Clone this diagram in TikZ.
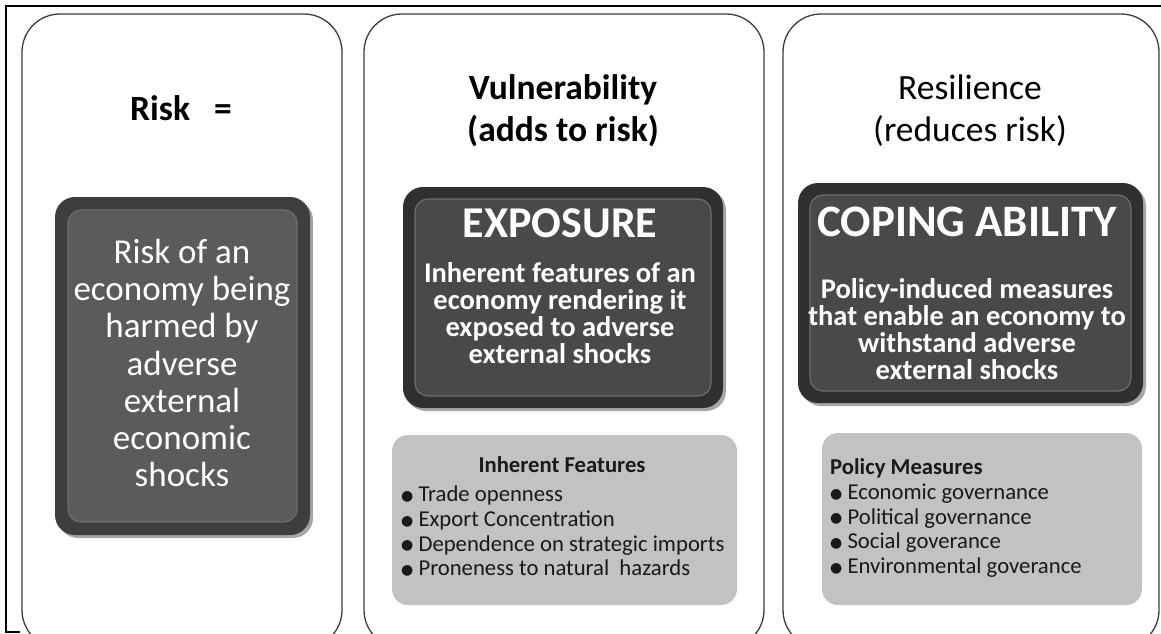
\documentclass[tikz,border=0pt]{standalone}
\usepackage{fontspec}
\setmainfont{Carlito}
\newfontfamily\symfont{DejaVu Sans}
\usetikzlibrary{shadows}
\definecolor{panelline}{HTML}{3C3C3C}
\definecolor{rimA}{HTML}{3E3E3E}
\definecolor{faceA}{HTML}{5B5B5B}
\definecolor{rimB}{HTML}{303030}
\definecolor{faceB}{HTML}{494949}
\definecolor{facelite}{HTML}{6E6E6E}
\definecolor{graypanel}{HTML}{C2C2C2}
\newcommand\bul{\raisebox{1.3pt}{\symfont\fontsize{14}{14}\selectfont ●}}
\begin{document}
\begin{tikzpicture}[x=1pt,y=-1pt,
  panel/.style={draw=panelline, line width=1.3pt, rounded corners=38pt, fill=white,
    inner sep=0pt, outer sep=0pt},
  rim/.style={fill=#1, rounded corners=20pt, inner sep=0pt, outer sep=0pt,
    drop shadow={shadow xshift=3pt, shadow yshift=-3pt, opacity=0.35, fill=black}},
  face/.style={fill=#1, draw=facelite, line width=1.2pt, rounded corners=13pt,
    inner sep=0pt, outer sep=0pt},
  graybox/.style={fill=graypanel, rounded corners=16pt, inner sep=0pt, outer sep=0pt},
  head/.style={font=\fontsize{35.5}{42}\selectfont, align=center, inner sep=0pt},
  boldhead/.style={font=\bfseries\fontsize{35.5}{42}\selectfont, align=center, inner sep=0pt},
  bigtitle/.style={text=white, font=\bfseries\fontsize{#1}{#1}\selectfont, inner sep=0pt},
  bodytext/.style={text=white, font=\bfseries\fontsize{28.5}{27}\selectfont, align=center, inner sep=0pt},
  listtext/.style={text=black!90, font=\fontsize{22.7}{24.7}\selectfont, align=left, inner sep=0pt}
]
\useasboundingbox (0,0) rectangle (1161,633);
\clip (0,0) rectangle (1161,633);

% three column panels
\node[panel, minimum width=320pt, minimum height=634pt] (p1) at (182,331) {};
\node[panel, minimum width=400pt, minimum height=634pt] (p2) at (564,331) {};
\node[panel, minimum width=376pt, minimum height=634pt] (p3) at (971,331) {};

% column headings
\node[boldhead] (h1) at (181,108) {Risk\hspace{24pt}=};
\node[boldhead] (h2) at (563,111) {Vulnerability\\(adds to risk)};
\node[head] (h3) at (970,111) {Resilience\\(reduces risk)};

% dark boxes
\node[rim=rimA, minimum width=255pt, minimum height=338pt] (b1) at (182.5,366) {};
\node[face=faceA, minimum width=229pt, minimum height=312pt] (f1) at (b1) {};
\node[text=white, font=\fontsize{35}{37.2}\selectfont, align=center, inner sep=0pt] (t1) at (182,363)
  {Risk of an\\economy being\\harmed by\\adverse\\external\\economic\\shocks};

\node[rim=rimB, minimum width=320pt, minimum height=221pt] (b2) at (563,297.5) {};
\node[face=faceB, minimum width=296pt, minimum height=197pt] (f2) at (b2) {};
\node[bigtitle=44] (t2) at (560,223) {EXPOSURE};
\node[bodytext] (d2) at (560,313)
  {Inherent features of an\\economy rendering it\\exposed to adverse\\external shocks};

\node[rim=rimB, minimum width=345pt, minimum height=220pt] (b3) at (970.5,293) {};
\node[face=faceB, minimum width=321pt, minimum height=196pt] (f3) at (b3) {};
\node[bigtitle=45] (t3) at (967,222) {COPING ABILITY};
\node[bodytext] (d3) at (967,329)
  {Policy-induced measures\\that enable an economy to\\withstand adverse\\external shocks};

% grey detail boxes
\node[graybox, minimum width=345pt, minimum height=170pt] (g2) at (564.5,520) {};
\node[listtext, font=\bfseries\fontsize{22.7}{24.7}\selectfont] (g2t) at (562,465) {Inherent Features};
\node[listtext, anchor=west] (g2l) at (401,531)
  {\bul\ Trade openness\\\bul\ Export Concentration\\\bul\ Dependence on strategic imports\\\bul\ Proneness to natural\ \ hazards};

\node[graybox, minimum width=320pt, minimum height=172pt] (g3) at (982,519) {};
\node[listtext, anchor=west] (g3l) at (830,518)
  {\textbf{Policy Measures}\\\bul\ Economic governance\\\bul\ Political governance\\\bul\ Social goverance\\\bul\ Environmental goverance};

% outer frame
\draw[line width=2pt] (1161,6) -- (6,6) -- (6,632) -- (20,632);
\end{tikzpicture}
\end{document}
